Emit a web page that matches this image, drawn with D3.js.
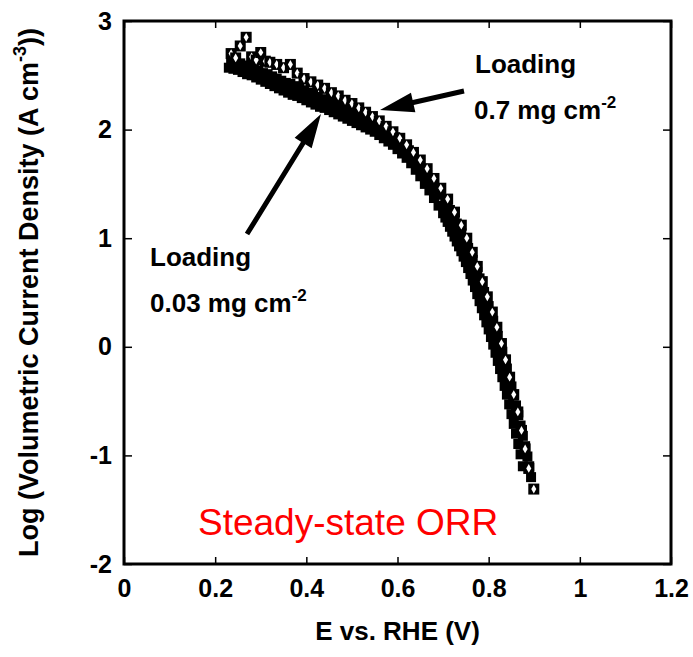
<!DOCTYPE html>
<html>
<head>
<meta charset="utf-8">
<script src="https://cdn.jsdelivr.net/npm/d3@7"></script>
<style>
  html, body { margin: 0; padding: 0; background: #fff; }
  svg { display: block; font-family: "Liberation Sans", Arial, sans-serif; }
</style>
</head>
<body>
<svg id="chart" width="693" height="657"></svg>
<script>
// Potential (V vs. RHE) and log volumetric current density (A cm^-3)
// Loading 0.03 mg cm^-2 (filled squares)
const lowE = [0.23,0.24,0.25,0.26,0.27,0.28,0.29,0.30,0.31,0.32,0.33,0.34,0.35,0.36,0.37,0.38,0.39,0.40,0.41,0.42,0.43,0.44,0.45,0.46,0.47,0.48,0.49,0.50,0.51,0.52,0.53,0.54,0.55,0.56,0.57,0.58,0.59,0.60,0.61,0.62,0.63,0.64,0.65,0.66,0.67,0.68,0.69,
  0.70,0.705,0.71,0.715,0.72,0.725,0.73,0.735,0.74,0.745,0.75,0.755,0.76,0.765,0.77,0.775,0.78,0.785,0.79,0.795,0.80,0.805,0.81,0.815,0.82,0.825,0.83,0.835,0.84,0.845,0.85,0.855,0.86,0.865,0.87,0.875];
const lowLogJ = [2.57,2.56,2.55,2.53,2.51,2.50,2.48,2.46,2.44,2.42,2.40,2.38,2.36,2.34,2.32,2.31,2.29,2.27,2.25,2.23,2.21,2.20,2.18,2.16,2.14,2.12,2.10,2.08,2.06,2.04,2.02,2.00,1.98,1.95,1.92,1.89,1.86,1.82,1.78,1.74,1.69,1.63,1.57,1.50,1.44,1.37,1.30,
  1.23,1.19,1.15,1.105,1.06,1.015,0.97,0.925,0.88,0.83,0.78,0.725,0.67,0.61,0.55,0.485,0.42,0.355,0.29,0.225,0.16,0.09,0.02,-0.055,-0.13,-0.205,-0.28,-0.36,-0.44,-0.53,-0.62,-0.71,-0.80,-0.895,-0.99,-1.10];

// Intermediate loading (filled squares)
const midE = [0.235,0.245,0.255,0.265,0.275,0.285,0.295,0.305,0.315,0.325,0.335,0.345,0.355,0.365,0.375,0.385,0.395,0.405,0.415,0.425,0.435,0.445,0.455,0.465,0.475,0.485,0.495,0.505,0.515,0.525,0.535,0.545,0.555,0.565,0.575,0.585,0.595,0.605,0.615,0.625,0.635,0.645,0.655,0.665,0.675,0.685,0.695,
  0.705,0.71,0.715,0.72,0.725,0.73,0.735,0.74,0.745,0.75,0.755,0.76,0.765,0.77,0.775,0.78,0.785,0.79,0.795,0.80,0.805,0.81,0.815,0.82,0.825,0.83,0.835,0.84,0.845,0.85,0.855,0.86,0.865,0.87,0.875,0.88,0.885,0.889,0.893];
const midLogJ = [2.63,2.62,2.61,2.59,2.58,2.56,2.54,2.52,2.51,2.49,2.47,2.45,2.43,2.42,2.40,2.38,2.36,2.34,2.32,2.30,2.28,2.27,2.25,2.23,2.21,2.19,2.17,2.15,2.13,2.11,2.09,2.07,2.05,2.03,2.00,1.97,1.93,1.89,1.85,1.81,1.76,1.70,1.64,1.58,1.52,1.46,1.40,
  1.33,1.295,1.26,1.22,1.18,1.135,1.09,1.045,1.00,0.955,0.91,0.855,0.80,0.745,0.69,0.63,0.57,0.505,0.44,0.375,0.31,0.24,0.17,0.10,0.03,-0.045,-0.12,-0.20,-0.28,-0.365,-0.45,-0.54,-0.63,-0.725,-0.82,-0.915,-1.01,-1.10,-1.20];

// Loading 0.7 mg cm^-2 (open squares)
const highE = [0.235,0.245,0.255,0.268,0.28,0.29,0.30,0.31,0.32,0.335,0.35,0.365,0.38,0.395,0.41,0.425,0.44,0.455,0.47,0.485,0.50,0.515,0.53,0.545,0.56,0.575,0.59,0.605,0.62,0.635,0.65,0.665,0.68,0.695,0.71,0.725,0.74,0.752,0.764,0.775,0.786,0.797,0.808,0.818,0.828,0.837,0.846,0.855,0.864,0.872,0.88,0.888,0.899];
const highLogJ = [2.70,2.66,2.77,2.85,2.67,2.64,2.71,2.63,2.62,2.60,2.57,2.60,2.52,2.47,2.44,2.41,2.38,2.34,2.31,2.27,2.24,2.20,2.16,2.12,2.08,2.03,1.98,1.92,1.86,1.79,1.72,1.64,1.55,1.46,1.36,1.24,1.12,1.00,0.87,0.74,0.60,0.46,0.32,0.18,0.03,-0.12,-0.28,-0.44,-0.60,-0.77,-0.94,-1.12,-1.31];

const xTicks = [0, 0.2, 0.4, 0.6, 0.8, 1, 1.2];
const yTicks = [-2, -1, 0, 1, 2, 3];

const svg = d3.select("#chart");
const plotL = 124, plotR = 671, plotT = 21, plotB = 564;

const x = d3.scaleLinear().domain([0, 1.2]).range([plotL, plotR]);
const y = d3.scaleLinear().domain([-2, 3]).range([plotB, plotT]);

const plain = d => String(d);   // hyphen-minus, no trailing zeros

const tickFont = g => g.selectAll("text")
  .attr("font-size", 25).attr("font-weight", "bold")
  .attr("font-family", "'Liberation Sans', Arial, sans-serif").attr("fill", "#000");
const tickLines = g => {
  g.select(".domain").remove();
  g.selectAll("line").attr("stroke", "#000").attr("stroke-width", 1.5);
};

// bottom axis with labels, ticks pointing inward
svg.append("g").attr("transform", `translate(0,${plotB})`)
  .call(d3.axisBottom(x).tickValues(xTicks).tickFormat(plain).tickSize(-7).tickPadding(15))
  .call(tickLines).call(tickFont);
// top axis, ticks only
svg.append("g").attr("transform", `translate(0,${plotT})`)
  .call(d3.axisTop(x).tickValues(xTicks).tickSize(-7).tickFormat(""))
  .call(tickLines);
// left axis with labels
svg.append("g").attr("transform", `translate(${plotL},0)`)
  .call(d3.axisLeft(y).tickValues(yTicks).tickFormat(plain).tickSize(-8).tickPadding(12))
  .call(tickLines).call(tickFont);
// right axis, ticks only
svg.append("g").attr("transform", `translate(${plotR},0)`)
  .call(d3.axisRight(y).tickValues(yTicks).tickSize(-8).tickFormat(""))
  .call(tickLines);

// plot frame
svg.append("rect")
  .attr("x", plotL).attr("y", plotT)
  .attr("width", plotR - plotL).attr("height", plotB - plotT)
  .attr("fill", "none").attr("stroke", "#000").attr("stroke-width", 3);

// data markers
const sq = 10;
const lowPts = lowE.map((e, i) => [e, lowLogJ[i]]);
const midPts = midE.map((e, i) => [e, midLogJ[i]]);
const highPts = highE.map((e, i) => [e, highLogJ[i]]);

const marks = svg.append("g");
[lowPts, midPts].forEach(pts => {
  marks.append("g").selectAll("rect").data(pts).join("rect")
    .attr("x", d => x(d[0]) - sq / 2).attr("y", d => y(d[1]) - sq / 2)
    .attr("width", sq).attr("height", sq).attr("fill", "#000");
});
const hi = marks.append("g").selectAll("g").data(highPts).join("g")
  .attr("transform", d => `translate(${x(d[0])},${y(d[1])})`);
hi.append("rect")
  .attr("x", -sq / 2 - 0.5).attr("y", -sq / 2 - 0.5)
  .attr("width", sq + 1).attr("height", sq + 1).attr("fill", "#000");
hi.append("path")
  .attr("d", d3.symbol(d3.symbolDiamond, 22)())
  .attr("fill", "#fff");

// annotation arrows
function arrow(x1, y1, x2, y2) {
  const ang = Math.atan2(y2 - y1, x2 - x1);
  const headLen = 34, headHalf = 10, shaft = 2.5;
  const bx = x2 - headLen * Math.cos(ang), by = y2 - headLen * Math.sin(ang);
  const nx = -Math.sin(ang), ny = Math.cos(ang);
  const p = d3.path();
  p.moveTo(x1 + nx * shaft, y1 + ny * shaft);
  p.lineTo(bx + nx * shaft, by + ny * shaft);
  p.lineTo(bx + nx * headHalf, by + ny * headHalf);
  p.lineTo(x2, y2);
  p.lineTo(bx - nx * headHalf, by - ny * headHalf);
  p.lineTo(bx - nx * shaft, by - ny * shaft);
  p.lineTo(x1 - nx * shaft, y1 - ny * shaft);
  p.closePath();
  svg.append("path").attr("d", p.toString()).attr("fill", "#000");
}
arrow(464, 91, 380, 110);
arrow(247, 234, 321, 114);

// annotation labels
function label(xp, yp, main, sup) {
  const t = svg.append("text").attr("x", xp).attr("y", yp)
    .attr("font-size", 26).attr("font-weight", "bold").attr("fill", "#000");
  t.append("tspan").text(main);
  if (sup) {
    t.append("tspan").attr("dy", -11).attr("font-size", 17).text(sup);
  }
}
label(475, 73, "Loading");
label(474, 119, "0.7 mg cm", "-2");
label(150, 266, "Loading");
label(150, 312, "0.03 mg cm", "-2");

svg.append("text").attr("x", 198).attr("y", 535)
  .attr("font-size", 37).attr("fill", "#ff0000")
  .text("Steady-state ORR");

// axis titles
svg.append("text")
  .attr("x", (plotL + plotR) / 2).attr("y", 640)
  .attr("text-anchor", "middle").attr("font-size", 26).attr("font-weight", "bold")
  .text("E vs. RHE (V)");

const yt = svg.append("text")
  .attr("transform", `translate(38,${(plotT + plotB) / 2}) rotate(-90)`)
  .attr("text-anchor", "middle").attr("font-size", 27).attr("font-weight", "bold");
yt.append("tspan").text("Log (Volumetric Current Density (A cm");
yt.append("tspan").attr("dy", -12).attr("font-size", 18).text("-3");
yt.append("tspan").attr("dy", 12).text("))");
</script>
</body>
</html>
